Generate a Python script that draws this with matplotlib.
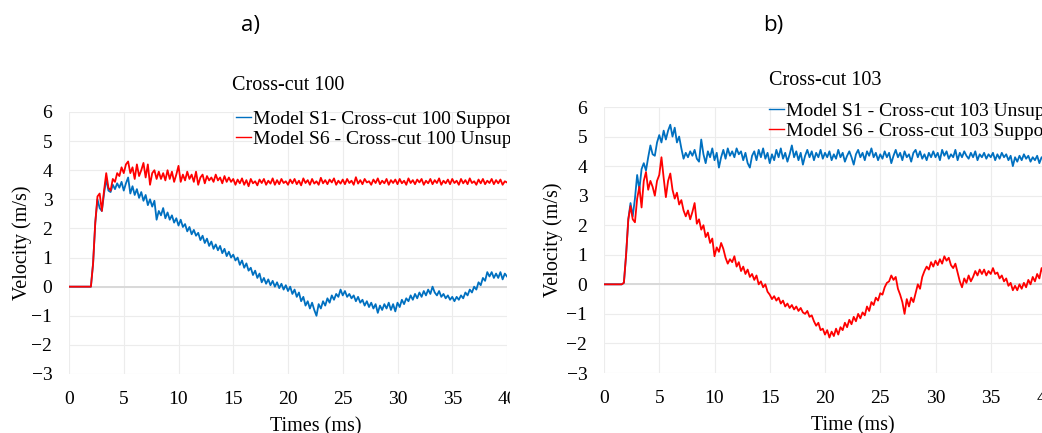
import matplotlib.pyplot as plt
import numpy as np
from matplotlib.lines import Line2D
from matplotlib.patches import Rectangle

# time base, 0.2 ms steps from 0 to 40 ms
time_ms = np.round(np.arange(0, 40.0001, 0.2), 1)

# Cross-cut 100
cc100_s1 = [
    0, 0, 0, 0, 0, 0, 0, 0, 0, 0, 0.0, 0.8, 2.2, 3.0, 2.7, 2.6, 3.2, 3.7, 3.3, 3.25, 3.5, 3.35, 3.55, 3.4, 3.6,
    3.3, 3.55, 3.75, 3.2, 3.45, 3.15, 3.35, 3.05, 3.25, 2.95, 3.15, 2.8, 3.0, 2.75, 2.95, 2.3, 2.6, 2.45, 2.7, 2.35, 2.55, 2.3, 2.45, 2.2, 2.35,
    2.1, 2.3, 2.05, 2.15, 1.9, 2.05, 1.8, 1.95, 1.75, 1.85, 1.6, 1.75, 1.5, 1.65, 1.4, 1.55, 1.3, 1.45, 1.25, 1.4, 1.15, 1.3, 1.05, 1.2, 1.0,
    1.1, 0.9, 1.0, 0.75, 0.9, 0.65, 0.8, 0.55, 0.65, 0.4, 0.55, 0.3, 0.45, 0.15, 0.3, 0.1, 0.25, 0.05, 0.2, 0.0, 0.15, -0.05, 0.1, -0.1, 0.05,
    -0.15, 0.0, -0.25, -0.1, -0.35, -0.2, -0.5, -0.35, -0.65, -0.5, -0.75, -0.55, -0.8, -1.0, -0.6, -0.75, -0.5, -0.65, -0.4, -0.55, -0.3, -0.45, -0.25, -0.35, -0.1,
    -0.3, -0.15, -0.35, -0.25, -0.4, -0.3, -0.5, -0.35, -0.55, -0.45, -0.65, -0.5, -0.7, -0.55, -0.75, -0.6, -0.9, -0.65, -0.8, -0.6, -0.75, -0.55, -0.8, -0.6, -0.85,
    -0.55, -0.7, -0.45, -0.6, -0.4, -0.5, -0.3, -0.45, -0.25, -0.4, -0.2, -0.35, -0.15, -0.3, -0.1, -0.25, 0.0, -0.2, -0.3, -0.15, -0.35, -0.25, -0.4, -0.3, -0.45,
    -0.35, -0.5, -0.35, -0.45, -0.3, -0.4, -0.2, -0.3, -0.1, -0.2, 0.0, -0.1, 0.15, 0.05, 0.3, 0.2, 0.5, 0.35, 0.5, 0.3, 0.45, 0.3, 0.5, 0.25, 0.45,
    0.35,
]
cc100_s6 = [
    0, 0, 0, 0, 0, 0, 0, 0, 0, 0, 0.0, 0.8, 2.2, 3.1, 3.2, 2.6, 3.3, 3.9, 3.4, 3.3, 3.7, 3.6, 3.9, 3.8, 4.1,
    3.9, 4.2, 4.3, 3.9, 4.1, 3.7, 4.2, 3.8, 4.0, 4.25, 3.75, 4.2, 3.5, 3.9, 4.0, 3.7, 3.95, 3.7, 3.9, 3.65, 4.0, 3.7, 3.95, 3.6, 3.85,
    4.15, 3.6, 3.85, 3.65, 3.95, 3.7, 3.85, 3.6, 3.95, 3.5, 3.75, 3.85, 3.55, 3.8, 3.65, 3.75, 3.6, 3.85, 3.65, 3.75, 3.55, 3.8, 3.6, 3.75, 3.6,
    3.7, 3.5, 3.68, 3.55, 3.72, 3.5, 3.66, 3.45, 3.7, 3.55, 3.62, 3.48, 3.68, 3.56, 3.7, 3.5, 3.64, 3.54, 3.72, 3.5, 3.66, 3.52, 3.7, 3.56, 3.62,
    3.5, 3.68, 3.55, 3.7, 3.52, 3.64, 3.48, 3.72, 3.56, 3.66, 3.5, 3.7, 3.54, 3.62, 3.5, 3.74, 3.55, 3.66, 3.52, 3.68, 3.58, 3.72, 3.5, 3.64, 3.54,
    3.68, 3.52, 3.7, 3.56, 3.64, 3.5, 3.76, 3.54, 3.66, 3.52, 3.7, 3.58, 3.62, 3.5, 3.68, 3.56, 3.72, 3.52, 3.64, 3.55, 3.7, 3.5, 3.66, 3.56, 3.68,
    3.52, 3.7, 3.55, 3.64, 3.5, 3.72, 3.56, 3.66, 3.52, 3.68, 3.58, 3.7, 3.5, 3.64, 3.55, 3.7, 3.52, 3.66, 3.56, 3.72, 3.5, 3.64, 3.55, 3.68, 3.52,
    3.7, 3.56, 3.64, 3.5, 3.7, 3.55, 3.66, 3.52, 3.72, 3.56, 3.62, 3.5, 3.68, 3.55, 3.7, 3.52, 3.64, 3.56, 3.7, 3.52, 3.66, 3.55, 3.68, 3.5, 3.62,
    3.58,
]

# Cross-cut 103
cc103_s1 = [
    0, 0, 0, 0, 0, 0, 0, 0, 0, 0.05, 1.0, 2.2, 2.75, 2.3, 2.9, 3.7, 3.2, 3.9, 4.1, 3.85, 4.3, 4.7, 4.4, 4.35, 4.8,
    5.05, 4.8, 5.2, 4.9, 5.2, 5.4, 5.0, 5.3, 4.8, 5.0, 4.6, 4.25, 4.45, 4.3, 4.5, 4.35, 4.55, 4.25, 4.15, 4.9, 4.4, 4.1, 4.5, 4.3, 4.6,
    4.2, 4.45, 3.95, 4.3, 4.55, 4.25, 4.6, 4.35, 4.5, 4.3, 4.6, 4.4, 4.5, 4.2, 4.45, 4.1, 3.95, 4.35, 4.5, 4.2, 4.55, 4.3, 4.6, 4.25, 4.45,
    4.1, 4.4, 4.2, 4.55, 4.3, 4.6, 4.25, 4.45, 4.15, 4.4, 4.7, 4.3, 4.5, 4.2, 4.45, 4.05, 4.35, 4.55, 4.3, 4.5, 4.2, 4.45, 4.3, 4.55, 4.25,
    4.45, 4.3, 4.5, 4.2, 4.4, 4.25, 4.55, 4.3, 4.45, 4.15, 4.35, 4.5, 4.3, 4.05, 4.4, 4.55, 4.3, 4.45, 4.2, 4.5, 4.35, 4.6, 4.3, 4.45, 4.2,
    4.4, 4.25, 4.5, 4.3, 4.45, 4.1, 4.35, 4.55, 4.3, 4.45, 4.2, 4.5, 4.3, 4.4, 4.15, 4.45, 4.55, 4.3, 4.5, 4.25, 4.4, 4.2, 4.45, 4.3, 4.5,
    4.3, 4.45, 4.2, 4.55, 4.35, 4.5, 4.25, 4.4, 4.3, 4.55, 4.2, 4.45, 4.3, 4.5, 4.35, 4.25, 4.45, 4.3, 4.5, 4.2, 4.4, 4.3, 4.45, 4.25, 4.4,
    4.3, 4.45, 4.2, 4.4, 4.25, 4.45, 4.3, 4.4, 4.2, 4.35, 4.0, 4.3, 4.15, 4.35, 4.2, 4.4, 4.25, 4.35, 4.15, 4.3, 4.2, 4.35, 4.1, 4.3, 4.2,
    4.25,
]
cc103_s6 = [
    0, 0, 0, 0, 0, 0, 0, 0, 0, 0.05, 1.0, 2.2, 2.65, 2.2, 2.1, 2.9, 3.3, 2.6, 3.5, 3.8, 3.2, 3.5, 3.3, 3.0, 3.5,
    3.7, 4.3, 3.6, 2.95, 3.5, 3.75, 3.2, 2.9, 3.1, 2.7, 2.85, 2.5, 2.3, 2.5, 2.2, 2.45, 2.75, 2.05, 2.2, 1.85, 2.0, 1.6, 1.75, 1.4, 1.55,
    0.95, 1.25, 1.1, 1.4, 1.2, 0.9, 0.7, 0.85, 0.75, 0.95, 0.6, 0.75, 0.45, 0.6, 0.35, 0.5, 0.25, 0.35, 0.15, 0.3, 0.0, 0.1, -0.1, 0.0, -0.25,
    -0.35, -0.5, -0.4, -0.55, -0.45, -0.65, -0.55, -0.75, -0.65, -0.8, -0.7, -0.85, -0.75, -0.9, -0.8, -0.95, -1.0, -0.9, -1.1, -1.05, -1.25, -1.4, -1.3, -1.55, -1.5,
    -1.7, -1.55, -1.8, -1.6, -1.75, -1.5, -1.7, -1.45, -1.55, -1.3, -1.45, -1.2, -1.35, -1.1, -1.25, -1.0, -1.15, -0.95, -1.05, -0.75, -0.9, -0.6, -0.7, -0.45, -0.55,
    -0.3, -0.35, -0.1, 0.05, 0.1, 0.3, 0.15, 0.25, -0.15, -0.35, -0.6, -1.0, -0.5, -0.75, -0.45, -0.6, -0.3, 0.0, -0.15, 0.25, 0.45, 0.6, 0.5, 0.75, 0.6,
    0.8, 0.65, 0.85, 0.7, 0.95, 0.8, 0.9, 0.65, 0.55, 0.7, 0.4, 0.1, -0.1, 0.2, 0.05, 0.3, 0.1, 0.25, 0.45, 0.3, 0.5, 0.35, 0.5, 0.3, 0.45,
    0.35, 0.55, 0.35, 0.4, 0.2, 0.3, 0.1, 0.2, -0.05, 0.05, -0.2, -0.05, -0.2, 0.0, -0.15, 0.05, -0.1, 0.15, 0.0, 0.25, 0.1, 0.35, 0.2, 0.55, 0.35,
    0.5,
]

panels = [
    {
        "tag": "a)", "title": "Cross-cut 100", "xlabel": "Times (ms)",
        "s1": cc100_s1, "s6": cc100_s6,
        "s1_label": "Model S1- Cross-cut 100 Supported",
        "s6_label": "Model S6 - Cross-cut 100 Unsupported",
    },
    {
        "tag": "b)", "title": "Cross-cut 103", "xlabel": "Time (ms)",
        "s1": cc103_s1, "s6": cc103_s6,
        "s1_label": "Model S1 - Cross-cut 103 Unsupported",
        "s6_label": "Model S6 - Cross-cut 103 Supported",
    },
]

BLUE = "#0070C0"
RED = "#FF0000"
SERIF = "Liberation Serif"

W, H = 1042, 433
fig = plt.figure(figsize=(W / 100, H / 100), dpi=100)


def px_box(x0, y_top, x1, y_bot):
    return [x0 / W, 1 - y_bot / H, (x1 - x0) / W, (y_bot - y_top) / H]


ax_a = fig.add_axes(px_box(69, 112, 507, 374), zorder=0)
ax_b = fig.add_axes(px_box(604, 107, 1046, 373), zorder=2)

# white strip hiding the right end of panel a
fig.patches.append(Rectangle((510 / W, 0), 94 / W, 1, transform=fig.transFigure,
                             facecolor="white", edgecolor="none", zorder=1))

legend_pos = [(236, 110), (769, 102)]
tag_pos = [(251, 25), (773, 25)]
xlabel_y = [-0.164, -0.162]
ylabel_x = [-0.084, -0.093]

for ax, p, (lx, ly), (tx, ty), xly, ylx in zip(
        [ax_a, ax_b], panels, legend_pos, tag_pos, xlabel_y, ylabel_x):
    ax.axhline(0, color="#d9d9d9", linewidth=1.4, zorder=1)
    ax.plot(time_ms, p["s1"], color=BLUE, linewidth=1.3, zorder=3)
    ax.plot(time_ms, p["s6"], color=RED, linewidth=1.3, zorder=4)

    ax.set_xlim(0, 40)
    ax.set_ylim(-3, 6)
    ax.set_xticks(np.arange(0, 41, 5))
    ax.set_yticks(np.arange(-3, 7, 1))
    ax.grid(True, color="#ececec", linewidth=0.8)
    ax.set_axisbelow(True)
    for s in ax.spines.values():
        s.set_visible(False)
    ax.tick_params(length=0, labelsize=14, pad=12)
    for lab in ax.get_xticklabels() + ax.get_yticklabels():
        lab.set_fontfamily(SERIF)

    ax.set_title(p["title"], fontsize=14.5, fontfamily=SERIF, pad=16)
    ax.set_xlabel(p["xlabel"], fontsize=14.5, fontfamily=SERIF)
    ax.set_ylabel("Velocity (m/s)", fontsize=14.5, fontfamily=SERIF)
    ax.xaxis.set_label_coords(0.564, xly)
    ax.yaxis.set_label_coords(ylx, 0.5)

    handles = [Line2D([], [], color=BLUE, linewidth=1.0),
               Line2D([], [], color=RED, linewidth=1.0)]
    ax.legend(handles, [p["s1_label"], p["s6_label"]], loc="upper left",
              bbox_to_anchor=(lx / W, 1 - ly / H), bbox_transform=fig.transFigure,
              frameon=False, handlelength=0.75, handletextpad=0.1,
              labelspacing=0.15, borderpad=0, borderaxespad=0,
              prop={"family": SERIF, "size": 14})

    fig.text(tx / W, 1 - ty / H, p["tag"], ha="center", va="center",
             fontsize=16, fontfamily="Open Sans", zorder=3)

fig.savefig("out.png", dpi=100)
